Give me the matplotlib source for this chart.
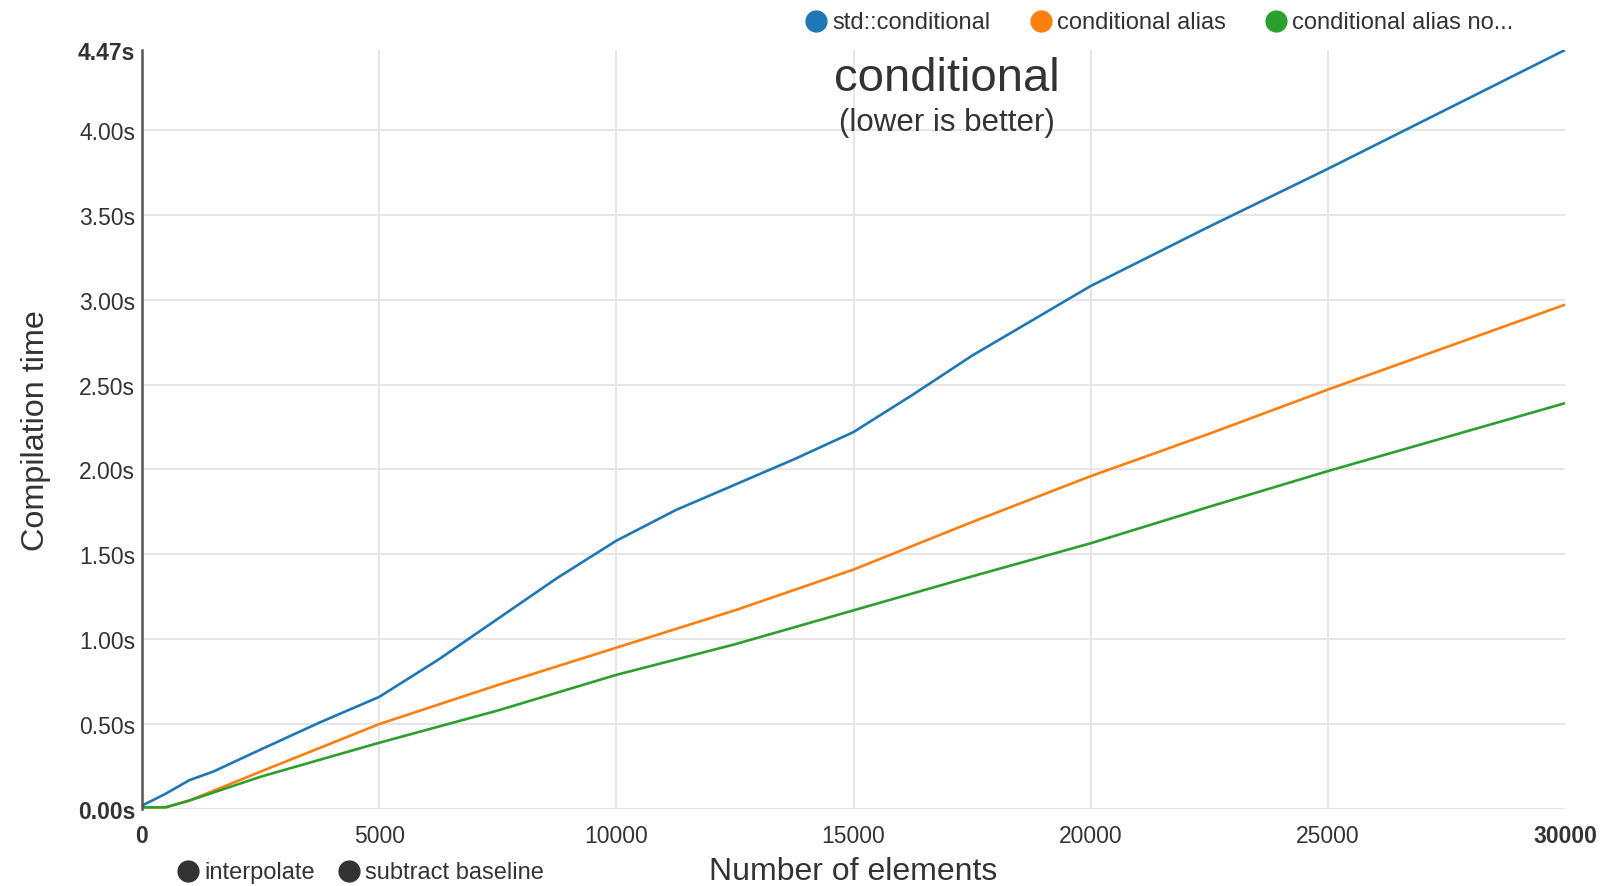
import matplotlib.pyplot as plt
from matplotlib.lines import Line2D

plt.rcParams['font.family'] = ['Liberation Sans', 'DejaVu Sans']

# data (seconds)
x_std = [0, 500, 1000, 1500, 2500, 3750, 5000, 6250, 7500, 8750, 10000,
         11250, 12500, 13750, 15000, 16250, 17500, 20000, 22500, 25000,
         27500, 30000]
t_std = [0.02, 0.09, 0.17, 0.22, 0.35, 0.51, 0.66, 0.88, 1.12, 1.36, 1.58,
         1.76, 1.91, 2.06, 2.22, 2.44, 2.67, 3.08, 3.43, 3.77, 4.12, 4.47]

x_alias = [0, 500, 1000, 2500, 3750, 5000, 7500, 10000, 12500, 15000,
           17500, 20000, 22500, 25000, 27500, 30000]
t_alias = [0.01, 0.01, 0.05, 0.22, 0.36, 0.50, 0.73, 0.95, 1.17, 1.41,
           1.69, 1.96, 2.21, 2.47, 2.72, 2.97]
t_alias_no = [0.01, 0.01, 0.05, 0.19, 0.29, 0.39, 0.58, 0.79, 0.97, 1.17,
              1.37, 1.565, 1.78, 1.99, 2.19, 2.39]

series_names = ["std::conditional", "conditional alias", "conditional alias no..."]
colors = ["#1f77b4", "#ff7f0e", "#2ca02c"]

xticks = [0, 5000, 10000, 15000, 20000, 25000, 30000]
yticks = [0, 0.5, 1.0, 1.5, 2.0, 2.5, 3.0, 3.5, 4.0, 4.47]

txt = "#333333"

fig = plt.figure(figsize=(16.04, 8.87), dpi=100)
ax = fig.add_axes([142 / 1604, 1 - 810 / 887, 1423 / 1604, 759 / 887])

ax.plot(x_std, t_std, color=colors[0], lw=1.9)
ax.plot(x_alias, t_alias, color=colors[1], lw=1.9)
ax.plot(x_alias, t_alias_no, color=colors[2], lw=1.9)

ax.set_xlim(0, 30000)
ax.set_ylim(0, 4.47)
ax.set_xticks(xticks)
ax.set_xticklabels([str(v) for v in xticks])
ax.set_yticks(yticks)
ax.set_yticklabels(["%.2fs" % v for v in yticks])
for lab in [ax.get_xticklabels()[0], ax.get_xticklabels()[-1],
            ax.get_yticklabels()[0], ax.get_yticklabels()[-1]]:
    lab.set_fontweight("bold")

ax.tick_params(axis="both", length=0, labelsize=16.5, labelcolor=txt)
ax.tick_params(axis="x", pad=11)
ax.tick_params(axis="y", pad=5)

ax.grid(True, color="#e6e6e6", lw=1.4)
ax.set_axisbelow(True)
ax.get_xgridlines()[-1].set_visible(False)
ax.get_xgridlines()[0].set_visible(False)
ax.get_ygridlines()[-1].set_visible(False)

for s in ["top", "right", "bottom"]:
    ax.spines[s].set_visible(False)
ax.spines["left"].set_color("#555555")
ax.spines["left"].set_linewidth(1.8)

ax.set_xlabel("Number of elements", fontsize=23, color=txt, labelpad=6)
ax.set_ylabel("Compilation time", fontsize=23.3, color=txt, labelpad=19)

fig.text(947 / 1604, 1 - 79 / 887, "conditional", fontsize=34, color=txt,
         ha="center", va="center")
fig.text(947 / 1604, 1 - 123 / 887, "(lower is better)", fontsize=22.5,
         color=txt, ha="center", va="center")

# legend at top
leg_dot_x = [816, 1041, 1276]
for px, name, c in zip(leg_dot_x, series_names, colors):
    fig.add_artist(Line2D([px / 1604], [1 - 22 / 887], marker="o", ms=15,
                          color=c, transform=fig.transFigure))
    fig.text((px + 16) / 1604, 1 - 23 / 887, name, fontsize=17, color=txt,
             ha="left", va="center")

# option toggles at bottom
for px, name in zip([188, 349], ["interpolate", "subtract baseline"]):
    fig.add_artist(Line2D([px / 1604], [1 - 872 / 887], marker="o", ms=15,
                          color="#333333", transform=fig.transFigure))
    fig.text((px + 16) / 1604, 1 - 873 / 887, name, fontsize=17, color=txt,
             ha="left", va="center")

fig.savefig("out.png", dpi=100)
